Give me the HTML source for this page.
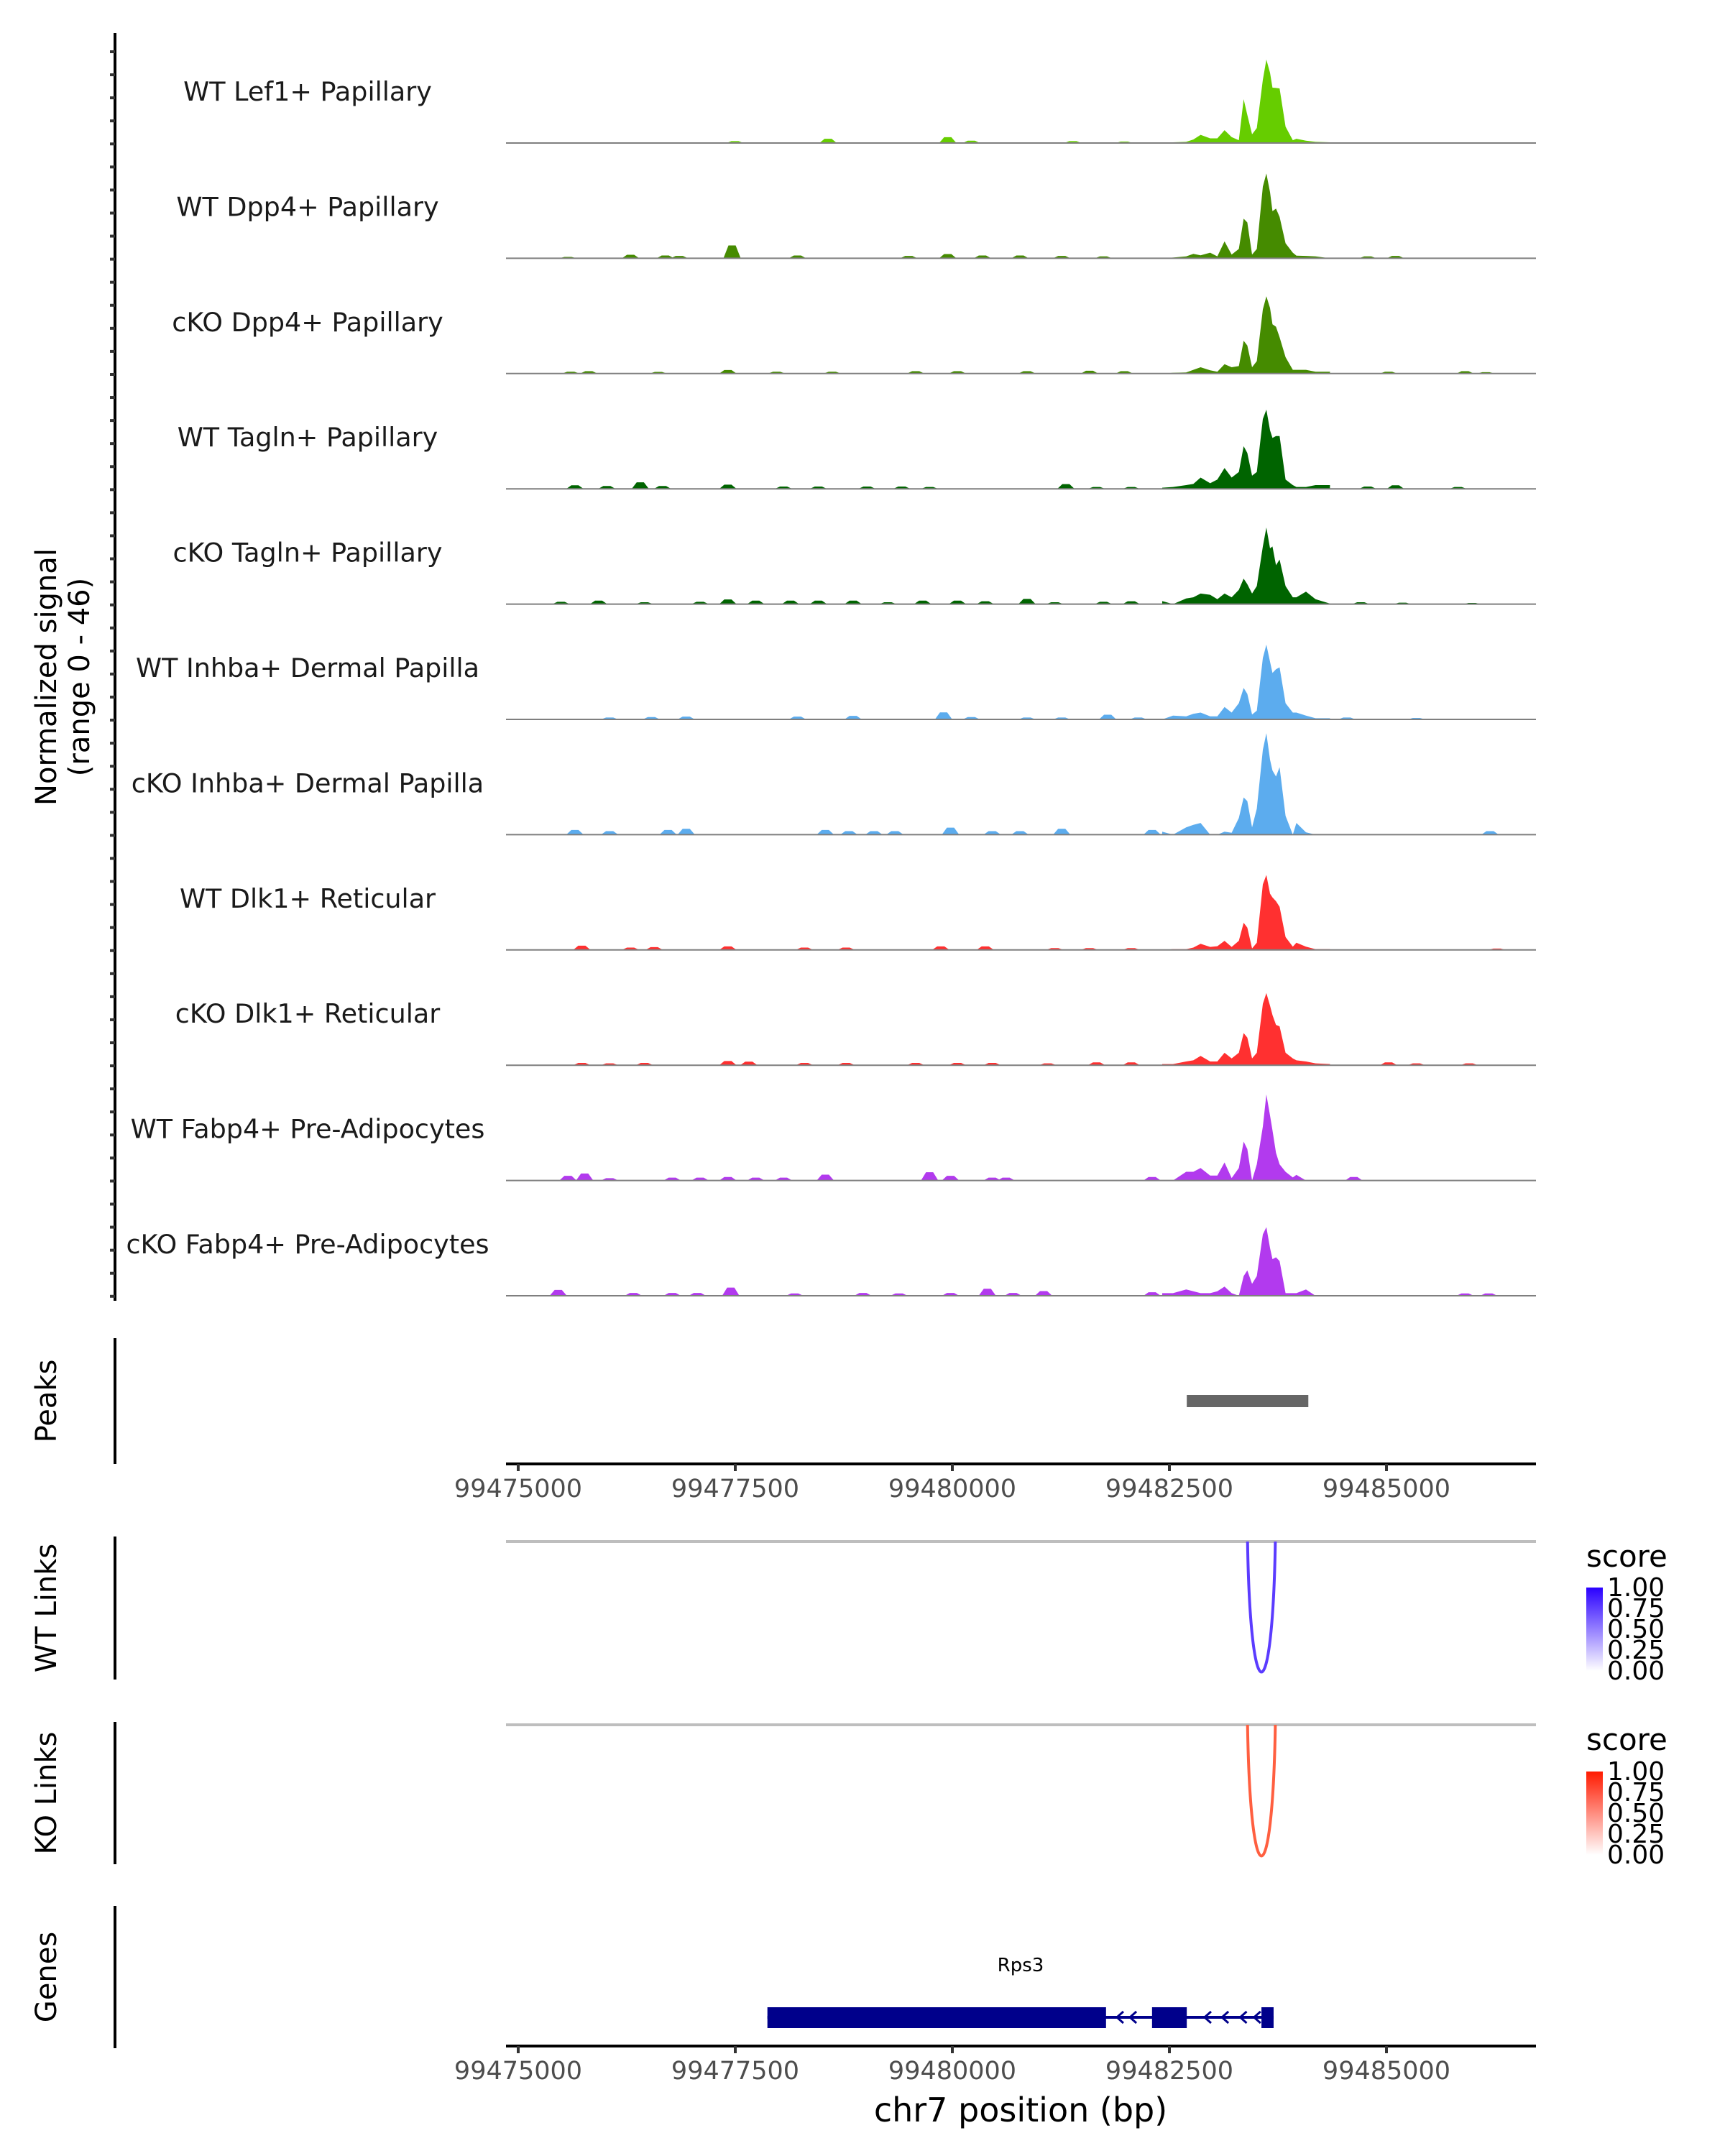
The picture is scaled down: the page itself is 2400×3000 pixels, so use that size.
<!DOCTYPE html>
<html><head><meta charset="utf-8"><style>
html,body{margin:0;padding:0;background:#fff}
svg{display:block}
text{font-family:"DejaVu Sans","Liberation Sans",sans-serif}
</style></head><body>
<svg id="chart" width="2400" height="3000" viewBox="0 0 2400 3000" xmlns="http://www.w3.org/2000/svg">
<g id="tracks"></g>
<g id="frame"></g>
</svg>
<script>
const trackNames=["WT Lef1+ Papillary","WT Dpp4+ Papillary","cKO Dpp4+ Papillary","WT Tagln+ Papillary","cKO Tagln+ Papillary","WT Inhba+ Dermal Papilla","cKO Inhba+ Dermal Papilla","WT Dlk1+ Reticular","cKO Dlk1+ Reticular","WT Fabp4+ Pre-Adipocytes","cKO Fabp4+ Pre-Adipocytes"];
const trackColors=["#66CD00","#458B00","#458B00","#006400","#006400","#5CACEE","#5CACEE","#FF3030","#FF3030","#B23AEE","#B23AEE"];
const peakPos=[99482417,99482541,99482693,99482776,99482859,99482969,99483052,99483135,99483217,99483300,99483355,99483397,99483452,99483507,99483576,99483617,99483659,99483687,99483728,99483769,99483838,99483921,99483963,99484073,99484183,99484349];
const peakLef1=[0,0.3,0.5,1.5,3.5,2,2,5.5,2.5,1.2,18.7,12,3.7,6.4,27,35.6,30,23.6,23.5,23.3,7,1.2,1.8,1,0.5,0.3];
const peakWtDpp4=[0,0.3,0.8,1.9,1.3,2.4,0.8,7.2,1.6,4,16.9,15.3,1.6,4,30.6,36.2,28.2,20.1,21.2,17.7,6.4,2.4,1.1,1,0.8,0];
const peakKoDpp4=[0,0.3,0.5,1.6,2.7,1.4,0.8,4,2.7,3.2,14,12,2.7,5.3,27.4,33,28,21,20,15.5,7,1.6,1.6,1.6,0.8,0.8];
const peakWtTagln=[0.5,0.8,1.6,2.1,4.8,2.4,4,8.9,4.8,7.2,18.2,15.3,5.6,7.2,29.8,33.8,25,21.7,22.5,22.5,4,1.6,0.8,0.8,1.6,1.6];
const peakKoTagln=[1.3,0,2.4,2.9,4.5,4,2.1,4.5,2.9,6.1,10.9,8.5,4.5,7.7,24.6,32.7,23.8,24.6,16.6,19,7.7,2.9,2.9,5.3,2.1,0.2];
const peakWtInhba=[0,1.6,1.3,2.4,2.9,1.3,1.3,5.3,2.9,6.9,13.4,10.9,2.1,3.7,26.2,31.9,24.6,19.8,21.4,22.2,6.9,2.9,2.9,1.6,0.5,0.5];
const peakKoInhba=[1.3,0,3.1,4.2,5,0,0,1.3,0.8,7.1,15.9,14.3,3.1,11.1,36.2,43.3,32,27.4,24.8,28.8,8,0,5,1,0,0];
const peakWtDlk1=[0,0.3,0.3,1,2.6,1.3,1.6,3.9,1.3,3.9,11.6,9.5,0.6,3.1,28,32,24,22.4,20.8,18.4,5.5,1.4,3.1,1.4,0.3,0.3];
const peakKoDlk1=[0.5,0.5,1.6,2.1,4,1.6,1.6,5.3,2.9,5.3,13.7,11.8,2.9,5.3,26.2,30.8,25.4,21.4,17.2,16.6,5.3,2.9,2.1,1.6,0.8,0.5];
const peakWtFabp4=[0,0,3.7,3.7,5.3,2.1,2.1,7.7,1,5.3,16.6,13.4,0,6.9,23,36.7,27.7,21.4,11.8,6.9,3.7,1.3,2.4,0,0,0];
const peakKoFabp4=[1.1,1.1,2.7,1.9,1.1,1.1,1.9,3.9,1.1,0,8.4,10.8,5.1,8.4,26.2,29.3,20.4,15.6,16.4,14.8,1.1,1.1,1.1,2.7,0,0];
const peakValues=[peakLef1,peakWtDpp4,peakKoDpp4,peakWtTagln,peakKoTagln,peakWtInhba,peakKoInhba,peakWtDlk1,peakKoDlk1,peakWtFabp4,peakKoFabp4];
const bumpsLef1=[[99477496,0.8],[99478569,1.8],[99479947,2.5],[99480219,1],[99481388,0.8],[99481980,0.6]];
const bumpsWtDpp4=[[99475573,0.6],[99476294,1.5],[99476694,1.2],[99476855,1],[99477463,5.5],[99478216,1.2],[99479498,1],[99479947,1.8],[99480347,1.2],[99480779,1.2],[99481260,1],[99481740,0.8],[99484784,0.8],[99485104,1]];
const bumpsKoDpp4=[[99475605,0.8],[99475813,1],[99476614,0.7],[99477415,1.5],[99477976,0.8],[99478617,0.8],[99479578,1],[99480059,1],[99480860,1],[99481580,1.2],[99481980,1],[99485024,0.8],[99485905,1],[99486145,0.6]];
const bumpsWtTagln=[[99475653,1.5],[99476021,1.2],[99476406,2.8],[99476662,1.2],[99477415,1.8],[99478056,1],[99478457,1],[99479017,1],[99479418,1],[99479738,0.8],[99481308,2],[99481661,0.8],[99482061,0.8],[99484784,1],[99485104,1.5],[99485825,0.8]];
const bumpsKoTagln=[[99475493,1],[99475926,1.5],[99476454,0.8],[99477095,1],[99477415,2],[99477736,1.5],[99478136,1.5],[99478457,1.5],[99478857,1.5],[99479258,0.8],[99479658,1.5],[99480059,1.5],[99480379,1.2],[99480860,2.2],[99481180,0.8],[99481740,1],[99482061,1.2],[99484704,0.8],[99485185,0.6],[99485986,0.5]];
const bumpsWtInhba=[[99475493,0.3],[99476053,0.8],[99476534,1],[99476935,1.2],[99478216,1.2],[99478857,1.5],[99479899,3],[99480219,1],[99480860,0.8],[99481260,0.8],[99481789,2],[99482141,0.8],[99484544,0.8],[99485345,0.6]];
const bumpsKoInhba=[[99475653,2],[99476053,1.5],[99476726,2],[99476935,2.5],[99478537,2],[99478809,1.5],[99479097,1.5],[99479338,1.5],[99479979,3],[99480459,1.5],[99480779,1.5],[99481260,2.5],[99482301,2],[99486193,1.5]];
const bumpsWtDlk1=[[99475733,1.8],[99476294,1],[99476566,1.2],[99477415,1.5],[99478297,1],[99478777,1],[99479867,1.5],[99480379,1.5],[99481180,0.8],[99481580,0.8],[99482061,0.8],[99486273,0.6]];
const bumpsKoDlk1=[[99475733,1],[99476053,0.8],[99476454,1],[99477415,1.8],[99477656,1.5],[99478297,1],[99478777,1],[99479578,1],[99480059,1],[99480459,1],[99481099,0.8],[99481661,1.2],[99482061,1.2],[99485024,1.2],[99485345,0.8],[99485953,0.8]];
const bumpsWtFabp4=[[99475573,2],[99475765,3],[99476053,1],[99476774,1.2],[99477095,1.2],[99477415,1.5],[99477736,1.2],[99478056,1.2],[99478537,2.5],[99479738,3.5],[99479979,2],[99480459,1.2],[99480619,1.2],[99482301,1.5],[99484624,1.5]];
const bumpsKoFabp4=[[99475461,2.5],[99476326,1.2],[99476774,1.2],[99477063,1.2],[99477448,3.5],[99478184,1],[99478970,1.2],[99479386,1],[99479979,1.2],[99480403,3],[99480699,1.2],[99481051,2],[99482301,1.5],[99485905,1],[99486178,1]];
const bumpValues=[bumpsLef1,bumpsWtDpp4,bumpsKoDpp4,bumpsWtTagln,bumpsKoTagln,bumpsWtInhba,bumpsKoInhba,bumpsWtDlk1,bumpsKoDlk1,bumpsWtFabp4,bumpsKoFabp4];
const xTicks=[99475000,99477500,99480000,99482500,99485000];
const xTickLabels=["99475000","99477500","99480000","99482500","99485000"];
const peakRegion=[99482700,99484100];
const linkStart=[99483400];
const linkEnd=[99483720];
const linkScoreWT=[0.85];
const linkScoreKO=[0.7];
const legendTicks=["1.00","0.75","0.50","0.25","0.00"];
const geneExons=[[99477870,99481770],[99482300,99482700],[99483560,99483700]];
const geneSpan=[99477870,99483700];
const geneArrows=[99481920,99482070,99482930,99483130,99483340,99483500];

const NS="http://www.w3.org/2000/svg";
const X0=704,X1=2137;
function xs(bp){return 721+(bp-99475000)*302/2500;}
function ys(v){return v*150/46;}
function mk(tag,attrs,parent,text){const e=document.createElementNS(NS,tag);for(const k in attrs)e.setAttribute(k,attrs[k]);if(text!==undefined)e.textContent=text;parent.appendChild(e);return e;}
const svg=document.getElementById('chart');
const tg=document.getElementById('tracks');
const fr=document.getElementById('frame');

trackNames.forEach((name,i)=>{
  const base=199+160.4*i;
  const g=mk('g',{},tg);
  
  
  const lab=mk('text',{x:428,y:base-59,'text-anchor':'middle','font-size':36.5,fill:'#1a1a1a'},g,name);
  
  
  const col=trackColors[i];
  bumpValues[i].forEach(b=>{
    const x=xs(b[0]),h=ys(b[1]);
    const p=mk('polygon',{points:`${x-12},${base} ${x-5},${base-h} ${x+5},${base-h} ${x+12},${base}`,fill:col},g);
    
    
  });
  const vals=peakValues[i];
  let pts=`${xs(peakPos[0])},${base} `;
  peakPos.forEach((p,j)=>{pts+=`${xs(p).toFixed(1)},${(base-ys(vals[j])).toFixed(1)} `;});
  pts+=`${xs(peakPos[peakPos.length-1])},${base}`;
  const pk=mk('polygon',{points:pts,fill:col},g);
  
  
  const bl=mk('line',{x1:X0,x2:X1,y1:base,y2:base,stroke:'#7f7f7f','stroke-width':2},g);
  
  
});

const la=mk('line',{x1:160,x2:160,y1:46,y2:1810,stroke:'#000','stroke-width':4},fr);


for(let y=72;y<=1810;y+=32.07){
  const t=mk('line',{x1:153,x2:160,y1:y,y2:y,stroke:'#333','stroke-width':4},fr);
  
  
}
const yl=mk('text',{transform:'translate(78,942) rotate(-90)','text-anchor':'middle','font-size':40,fill:'#000'},fr);


mk('tspan',{x:0,dy:0},yl,'Normalized signal');
mk('tspan',{x:0,dy:46},yl,'(range 0 - 46)');

function sideAxis(y1,y2,label,nm){
  const l=mk('line',{x1:160,x2:160,y1:y1,y2:y2,stroke:'#000','stroke-width':4},fr);
  
  
  const t=mk('text',{transform:`translate(78,${(y1+y2)/2}) rotate(-90)`,'text-anchor':'middle','font-size':40,fill:'#000'},fr,label);
  
  
}
sideAxis(1862,2037,'Peaks','peaks');
sideAxis(2138,2337,'WT Links','wt-links');
sideAxis(2396,2594,'KO Links','ko-links');
sideAxis(2652,2850,'Genes','genes');

const pb=mk('rect',{x:xs(peakRegion[0]),y:1941,width:xs(peakRegion[1])-xs(peakRegion[0]),height:17,fill:'#666666'},fr);



function xAxis(y,nm){
  const a=mk('line',{x1:X0,x2:X1,y1:y,y2:y,stroke:'#000','stroke-width':4},fr);
  
  
  xTicks.forEach((t,i)=>{
    const tk=mk('line',{x1:xs(t),x2:xs(t),y1:y,y2:y+10,stroke:'#333','stroke-width':4},fr);
    
    
    const tl=mk('text',{x:xs(t),y:y+46,'text-anchor':'middle','font-size':35,fill:'#4d4d4d'},fr,xTickLabels[i]);
    
    
  });
}
xAxis(2037,'peaks-x-axis');
xAxis(2847,'genes-x-axis');

function links(top,starts,ends,scores,col,nm,depth){
  const gl=mk('line',{x1:X0,x2:2137,y1:top,y2:top,stroke:'#bebebe','stroke-width':4},fr);
  
  
  starts.forEach((s,i)=>{
    const a=xs(s),b=xs(ends[i]);
    const d=`M${a},${top} C${a+4},${top+depth*1.33} ${b-4},${top+depth*1.33} ${b},${top}`;
    const p=mk('path',{d:d,fill:'none',stroke:col,'stroke-width':4},fr);
    
    
  });
}
links(2145,linkStart,linkEnd,linkScoreWT,'#5B3CFF','wt-link',182);
links(2400,linkStart,linkEnd,linkScoreKO,'#FF5F40','ko-link',183);

function legend(titleY,barTop,barBot,c,nm){
  const defs=mk('defs',{},fr);
  const lg=mk('linearGradient',{id:nm+'grad',x1:0,y1:1,x2:0,y2:0},defs);
  mk('stop',{offset:0,'stop-color':'#ffffff'},lg);
  mk('stop',{offset:1,'stop-color':c},lg);
  const t=mk('text',{x:2207,y:titleY,'font-size':42,fill:'#000'},fr,'score');
  
  
  const r=mk('rect',{x:2207,y:barTop,width:23,height:barBot-barTop,fill:`url(#${nm}grad)`},fr);
  
  
  legendTicks.forEach((l,i)=>{
    const y=barTop+(barBot-barTop)*i/4;
    const tx=mk('text',{x:2236,y:y+12,'font-size':36,fill:'#000'},fr,l);
    
    
  });
}
legend(2180,2209,2325,'#2A00FF','wt');
legend(2435,2465,2581,'#FF1A00','ko');

const gg=mk('g',{},fr);


const gl=mk('line',{x1:xs(geneSpan[0]),x2:xs(geneSpan[1]),y1:2807,y2:2807,stroke:'#00008B','stroke-width':4},gg);


geneExons.forEach(e=>{
  const r=mk('rect',{x:xs(e[0]),y:2793,width:xs(e[1])-xs(e[0]),height:29,fill:'#00008B'},gg);
  
  
});
geneArrows.forEach(a=>{
  const x=xs(a);
  const p=mk('path',{d:`M${x+6},${2799} L${x-3},${2807} L${x+6},${2815}`,fill:'none',stroke:'#00008B','stroke-width':3},gg);
  
  
});
const gt=mk('text',{x:1420,y:2743,'text-anchor':'middle','font-size':26,fill:'#000'},gg,'Rps3');



const xt=mk('text',{x:1420,y:2952,'text-anchor':'middle','font-size':46,fill:'#000'},fr,'chr7 position (bp)');


</script>
</body></html>
